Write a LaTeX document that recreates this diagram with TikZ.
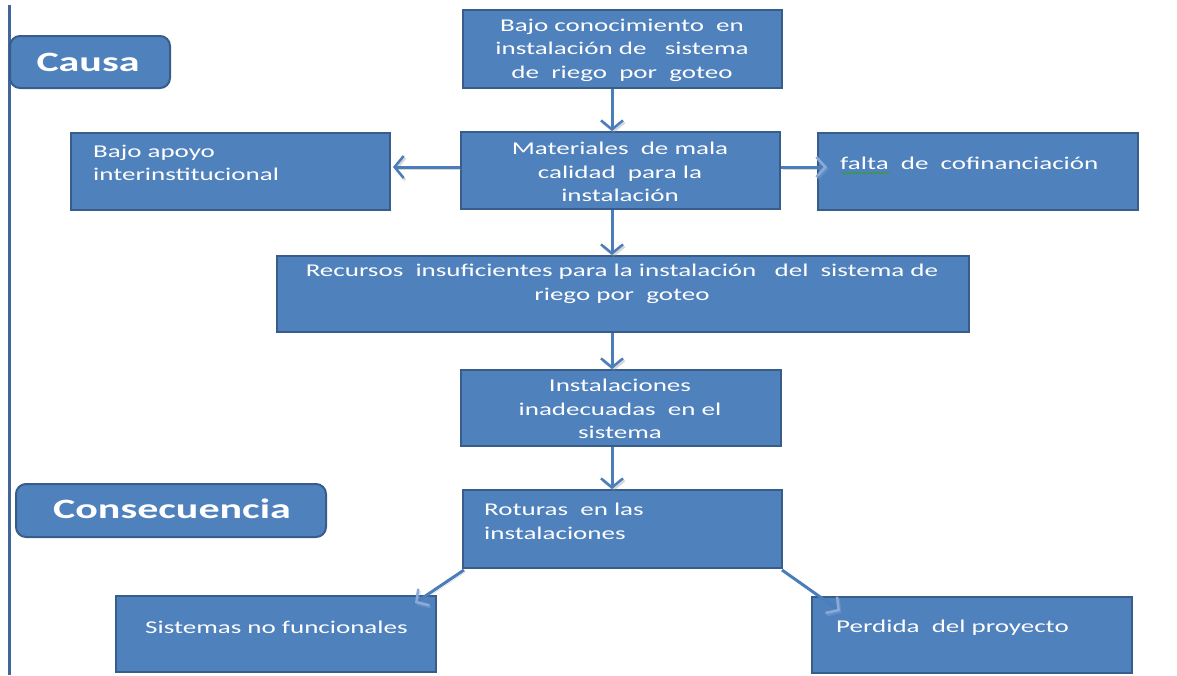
\documentclass[tikz,border=0pt]{standalone}
\usepackage{fontspec}
\setmainfont{Carlito}[FakeStretch=1.5]
\usetikzlibrary{arrows.meta,calc,decorations.pathmorphing}
\definecolor{boxfill}{HTML}{4F81BD}
\definecolor{boxline}{HTML}{385D8A}
\definecolor{arrowc}{HTML}{4A7EBB}
\definecolor{tipc}{HTML}{8AAAD8}
\definecolor{axisc}{HTML}{41679A}
\definecolor{spell}{HTML}{3C9A3C}
\begin{document}
\begin{tikzpicture}[x=1pt,y=-1pt,
  box/.style={draw=boxline, line width=2pt, fill=boxfill, rectangle, inner sep=0pt},
  tag/.style={box, rounded corners=10pt},
  txt/.style={text=white, font=\fontsize{18}{23.5}\selectfont, inner sep=0pt, align=center},
  ltxt/.style={txt, align=left},
  tagtxt/.style={text=white, font=\fontsize{28}{32}\selectfont\bfseries, inner sep=0pt},
  shade/.style={preaction={draw=black!45, opacity=0.35, transform canvas={shift={(1.5pt,-2pt)}}}},
  conn/.style={shade, draw=arrowc, line width=3pt, -{Straight Barb[length=9pt,width=22pt,line width=2.5pt]}},
  dconn/.style={shade, draw=arrowc, line width=3pt, -{Straight Barb[length=9pt,width=20pt,line width=2.5pt,color=tipc]}}]
\useasboundingbox (0,0) rectangle (1177,675);

% left axis
\draw[axisc, line width=3pt] (9,5) -- (9,675);

% section tags
\node[tag, minimum width=160pt, minimum height=52pt] (causa) at (90,62) {};
\node[tagtxt] (causaT) at (88,62) {Causa};
\node[tag, minimum width=310pt, minimum height=53pt] (conse) at (171,510.5) {};
\node[tagtxt] (conseT) at (172,509) {Consecuencia};

% boxes
\node[box, minimum width=319pt, minimum height=78pt] (b1) at (622.5,49) {};
\node[box, minimum width=319pt, minimum height=77pt] (mat) at (620.5,170.5) {};
\node[box, minimum width=319pt, minimum height=77pt] (apoyo) at (230.5,171.5) {};
\node[box, minimum width=320pt, minimum height=77pt] (falta) at (978,171.5) {};
\node[box, minimum width=692pt, minimum height=76pt] (rec) at (623,294) {};
\node[box, minimum width=320pt, minimum height=76pt] (inst) at (621,408) {};
\node[box, minimum width=319pt, minimum height=78pt] (rot) at (622.5,529) {};
\node[box, minimum width=320pt, minimum height=76pt] (sist) at (276,634) {};
\node[box, minimum width=320pt, minimum height=76pt] (perd) at (972,635) {};

% box texts
\node[txt] (b1T) at (622,50) {Bajo conocimiento\ \ en\\instalación de\ \ \ sistema\\de\ \ riego\ \ por\ \ goteo};
\node[txt] (matT) at (620,172) {Materiales\ \ de mala\\calidad\ \ para la\\instalación};
\node[ltxt, anchor=west] (apoyoT) at (93,163) {Bajo apoyo\\interinstitucional};
\node[ltxt, anchor=west] (faltaT) at (840,163) {falta\ \ de\ \ cofinanciación};
\node[txt] (recT) at (622,284) {Recursos\ \ insuficientes para la instalación\ \ \ del\ \ sistema de\\riego por\ \ goteo};
\node[txt] (instT) at (620,409) {Instalaciones\\inadecuadas\ \ en el\\sistema};
\node[ltxt, anchor=west] (rotT) at (484,521.5) {Roturas\ \ en las\\instalaciones};
\node[ltxt, anchor=west] (sistT) at (145,627) {Sistemas no funcionales};
\node[ltxt, anchor=west] (perdT) at (836,628) {Perdida\ \ del proyecto};

% spell-check underline
\draw[spell, line width=0.8pt, decorate, decoration={snake, amplitude=0.8pt, segment length=3pt}]
  (842,173) -- (890,173);

% connectors
\coordinate (spine) at (612,0);
\coordinate (midrow) at (0,167);
\draw[conn] (b1.south -| spine) -- (mat.north -| spine);
\draw[conn] (mat.south -| spine) -- (rec.north -| spine);
\draw[conn] (rec.south -| spine) -- (inst.north -| spine);
\draw[conn] (inst.south -| spine) -- (rot.north -| spine);
\draw[conn] (mat.west |- midrow) -- ([xshift=2pt]apoyo.east |- midrow);
\draw[dconn] (mat.east |- midrow) -- ([xshift=10pt]falta.west |- midrow);
\draw[dconn] ([xshift=2pt,yshift=-1pt]rot.south west) -- ([xshift=-22pt,yshift=-8pt]sist.north east);
\draw[dconn] ([xshift=-1pt,yshift=-1pt]rot.south east) -- ([xshift=29pt,yshift=-15pt]perd.north west);
\end{tikzpicture}
\end{document}
